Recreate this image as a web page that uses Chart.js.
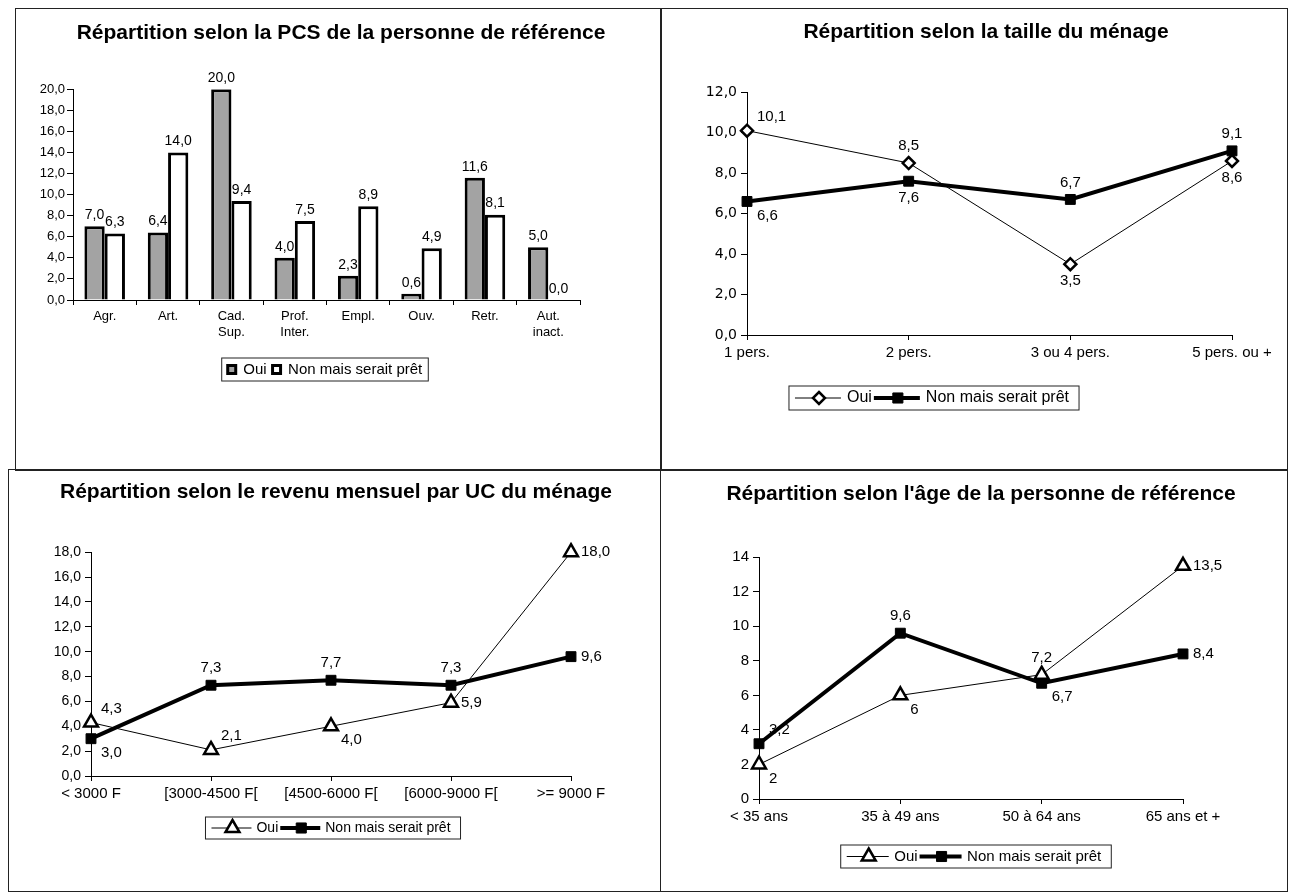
<!DOCTYPE html>
<html lang="fr">
<head>
<meta charset="utf-8">
<title>Répartition</title>
<script src="https://cdn.jsdelivr.net/npm/chart.js@4.4.1/dist/chart.umd.min.js"></script>
<style>
  html, body { margin: 0; padding: 0; background: #fff; }
  body { width: 1289px; height: 893px; position: relative; overflow: hidden; }
  .frame { position: absolute; border: 1.5px solid #222; box-sizing: border-box; }
  canvas { position: absolute; }
</style>
</head>
<body>
<div class="frame" style="left:15px;top:8px;width:647px;height:463px"></div>
<div class="frame" style="left:660px;top:8px;width:628px;height:463px"></div>
<div class="frame" style="left:8px;top:469px;width:653px;height:423px"></div>
<div class="frame" style="left:660px;top:469px;width:628px;height:423px"></div>

<canvas id="pcsChart" width="645" height="461" style="left:15px;top:8px"></canvas>
<canvas id="tailleChart" width="628" height="461" style="left:660px;top:8px"></canvas>
<canvas id="revenuChart" width="652" height="423" style="left:8px;top:469px"></canvas>
<canvas id="ageChart" width="628" height="423" style="left:660px;top:469px"></canvas>

<script>
// --- data ---
const pcsLabels = ['Agr.', 'Art.', ['Cad.', 'Sup.'], ['Prof.', 'Inter.'], 'Empl.', 'Ouv.', 'Retr.', ['Aut.', 'inact.']];
const pcsOui = [7.0, 6.4, 20.0, 4.0, 2.3, 0.6, 11.6, 5.0];
const pcsNon = [6.3, 14.0, 9.4, 7.5, 8.9, 4.9, 8.1, 0.0];

const tailleLabels = ['1 pers.', '2 pers.', '3 ou 4 pers.', '5 pers. ou +'];
const tailleOui = [10.1, 8.5, 3.5, 8.6];
const tailleNon = [6.6, 7.6, 6.7, 9.1];

const revenuLabels = ['< 3000 F', '[3000-4500 F[', '[4500-6000 F[', '[6000-9000 F[', '>= 9000 F'];
const revenuOui = [4.3, 2.1, 4.0, 5.9, 18.0];
const revenuNon = [3.0, 7.3, 7.7, 7.3, 9.6];

const ageLabels = ['< 35 ans', '35 à 49 ans', '50 à 64 ans', '65 ans et +'];
const ageOui = [2, 6, 7.2, 13.5];
const ageNon = [3.2, 9.6, 6.7, 8.4];

const seriesNames = ['Oui', 'Non mais serait prêt'];

// where each value label sits around its point (n, s, e, ne, se)
const tailleLabelPos = [['ne', 'n', 's', 's'], ['se', 's', 'n', 'n']];
const revenuLabelPos = [['ne', 'ne', 'se', 'e', 'e'], ['se', 'n', 'n', 'n', 'e']];
const ageLabelPos = [['se', 'se', 'n', 'e'], ['ne', 'n', 'se', 'e']];

const SANS = '"Liberation Sans", Arial, sans-serif';
const NARROW = '"Liberation Sans Narrow", "Liberation Sans", Arial, sans-serif';

// value labels next to bars / points
const valueLabels = {
  id: 'valueLabels',
  afterDatasetsDraw(chart, args, opts) {
    const ctx = chart.ctx;
    ctx.save();
    ctx.font = opts.font;
    ctx.fillStyle = '#000';
    ctx.textBaseline = 'middle';
    chart.data.datasets.forEach((ds, i) => {
      const meta = chart.getDatasetMeta(i);
      meta.data.forEach((el, j) => {
        const v = ds.data[j];
        const txt = (opts.decimals ? v.toFixed(1) : String(v)).replace('.', ',');
        const p = opts.positions ? opts.positions[i][j] : 'n';
        let x = el.x, y = el.y;
        ctx.textAlign = 'center';
        if (p === 'n') y -= opts.gap;
        if (p === 's') y += opts.gap;
        if (p === 'e' || p === 'ne' || p === 'se') { ctx.textAlign = 'left'; x += 10; }
        if (p === 'ne') y -= 14;
        if (p === 'se') y += 14;
        ctx.fillText(txt, x, y);
      });
    });
    ctx.restore();
  }
};

// move title and legend horizontally (centres in canvas px)
const blockCentres = {
  id: 'blockCentres',
  afterLayout(chart, args, opts) {
    const t = chart.titleBlock;
    if (t && opts.title != null) {
      const w = t.right - t.left;
      t.left = opts.title - w / 2;
      t.right = opts.title + w / 2;
    }
    const lg = chart.legend;
    if (lg && opts.legend != null) {
      const w = lg.right - lg.left;
      lg.left = opts.legend - w / 2;
      lg.right = opts.legend + w / 2;
    }
  }
};

function drawMarker(ctx, style, x, y, r) {
  ctx.beginPath();
  if (style === 'rect') {
    ctx.rect(x - r * 0.72, y - r * 0.72, r * 1.44, r * 1.44);
  } else if (style === 'rectRot') {
    ctx.moveTo(x, y - r); ctx.lineTo(x + r, y); ctx.lineTo(x, y + r); ctx.lineTo(x - r, y); ctx.closePath();
  } else {
    ctx.moveTo(x, y - r); ctx.lineTo(x + r * 0.87, y + r * 0.5); ctx.lineTo(x - r * 0.87, y + r * 0.5); ctx.closePath();
  }
  ctx.fill();
  ctx.stroke();
}

// legend: line samples with markers and a box around it
const legendFrame = {
  id: 'legendFrame',
  afterDraw(chart, args, opts) {
    const lg = chart.legend;
    if (!lg || !lg.legendHitBoxes || !lg.legendHitBoxes.length) return;
    const boxes = lg.legendHitBoxes;
    const ctx = chart.ctx;
    ctx.save();
    if (opts.lineSamples) {
      const bw = lg.options.labels.boxWidth;
      boxes.forEach((b, i) => {
        const ds = chart.data.datasets[i];
        const cy = b.top + b.height / 2;
        ctx.strokeStyle = '#000';
        ctx.lineWidth = ds.borderWidth;
        ctx.beginPath();
        ctx.moveTo(b.left - 4, cy);
        ctx.lineTo(b.left + bw + 2, cy);
        ctx.stroke();
        ctx.fillStyle = ds.pointBackgroundColor;
        ctx.lineWidth = ds.pointBorderWidth;
        drawMarker(ctx, ds.pointStyle, b.left + bw / 2, cy, ds.pointRadius);
      });
    }
    let l = Infinity, r = -Infinity, t = Infinity, btm = -Infinity;
    boxes.forEach(b => {
      l = Math.min(l, b.left); r = Math.max(r, b.left + b.width);
      t = Math.min(t, b.top); btm = Math.max(btm, b.top + b.height);
    });
    ctx.strokeStyle = '#222';
    ctx.lineWidth = 1;
    ctx.strokeRect(l - opts.padX, t - 4, r - l + opts.padX * 2, btm - t + 8);
    ctx.restore();
  }
};

function yAxis(max, step, width, font, decimals, tickPad) {
  return {
    min: 0,
    max: max,
    ticks: {
      stepSize: step, color: '#000', font: font, padding: tickPad,
      callback: v => decimals ? v.toFixed(1).replace('.', ',') : String(v)
    },
    grid: { drawOnChartArea: false, color: '#000', tickLength: 6 },
    border: { color: '#000', width: 1 },
    afterFit: s => { s.width = width; }
  };
}

function xAxis(height, offset, font) {
  return {
    offset: offset,
    ticks: { color: '#000', font: font, maxRotation: 0, autoSkip: false, padding: 4 },
    grid: { drawOnChartArea: false, offset: offset, color: '#000', tickLength: 5 },
    border: { color: '#000', width: 1 },
    afterFit: s => { s.height = height; }
  };
}

function lineLegendLabels(chart) {
  return Chart.defaults.plugins.legend.labels.generateLabels(chart).map(it => {
    it.fillStyle = 'rgba(0,0,0,0)';
    it.strokeStyle = 'rgba(0,0,0,0)';
    it.lineWidth = 0;
    return it;
  });
}

function titleOpts(text, top, bottom) {
  return {
    display: true, text: text, color: '#000',
    font: { family: NARROW, size: 21, weight: 'bold' },
    padding: { top: top, bottom: bottom }
  };
}

function ouiLine(data, style) {
  return {
    label: seriesNames[0], data: data,
    borderColor: '#000', borderWidth: 1,
    pointStyle: style, pointRadius: style === 'triangle' ? 8 : 6,
    pointBackgroundColor: '#fff', pointBorderColor: '#000', pointBorderWidth: 2.5,
    tension: 0, clip: false
  };
}

function nonLine(data) {
  return {
    label: seriesNames[1], data: data,
    borderColor: '#000', borderWidth: 4,
    pointStyle: 'rect', pointRadius: 7,
    pointBackgroundColor: '#000', pointBorderColor: '#000', pointBorderWidth: 1,
    tension: 0, clip: false
  };
}

function lineChart(id, cfg) {
  return new Chart(document.getElementById(id), {
    type: 'line',
    data: {
      labels: cfg.labels,
      datasets: [ouiLine(cfg.oui, cfg.marker), nonLine(cfg.non)]
    },
    options: {
      responsive: false,
      animation: false,
      layout: { padding: { left: 0, right: cfg.padRight, top: 0, bottom: cfg.padBottom } },
      scales: {
        x: xAxis(cfg.xHeight, false, { family: NARROW, size: 15 }),
        y: yAxis(cfg.max, cfg.step, cfg.yWidth, cfg.yFont, cfg.decimals, cfg.tickPad)
      },
      plugins: {
        title: titleOpts(cfg.title, cfg.titleTop, cfg.titleBottom),
        legend: {
          position: 'bottom',
          labels: {
            boxWidth: cfg.legendBox, boxHeight: 10, padding: 6, color: '#000',
            font: { family: NARROW, size: cfg.legendSize },
            generateLabels: lineLegendLabels
          }
        },
        tooltip: { enabled: false },
        valueLabels: { font: '15px ' + NARROW, gap: 17, decimals: cfg.labelDecimals, positions: cfg.labelPos },
        legendFrame: { lineSamples: true, padX: 10 },
        blockCentres: { title: cfg.titleCentre, legend: cfg.legendCentre }
      }
    },
    plugins: [valueLabels, legendFrame, blockCentres]
  });
}

// --- PCS (bars) ---
new Chart(document.getElementById('pcsChart'), {
  type: 'bar',
  data: {
    labels: pcsLabels,
    datasets: [
      {
        label: seriesNames[0], data: pcsOui,
        backgroundColor: '#a3a3a3', borderColor: '#000', borderWidth: 3,
        categoryPercentage: 0.64, barPercentage: 1.0
      },
      {
        label: seriesNames[1], data: pcsNon,
        backgroundColor: '#fff', borderColor: '#000', borderWidth: 3,
        categoryPercentage: 0.64, barPercentage: 1.0
      }
    ]
  },
  options: {
    responsive: false,
    animation: false,
    layout: { padding: { left: 0, right: 80, top: 0, bottom: 82 } },
    scales: {
      x: xAxis(56, true, { family: SANS, size: 13 }),
      y: yAxis(20, 2, 58, { family: SANS, size: 13 }, true, 2)
    },
    plugins: {
      title: titleOpts('Répartition selon la PCS de la personne de référence', 13, 43),
      legend: {
        position: 'bottom',
        labels: { boxWidth: 8, boxHeight: 8, padding: 6, color: '#000', font: { family: NARROW, size: 15 } }
      },
      tooltip: { enabled: false },
      valueLabels: { font: '14px ' + SANS, gap: 11, decimals: true },
      legendFrame: { lineSamples: false, padX: 6 },
      blockCentres: { title: 326, legend: 310 }
    }
  },
  plugins: [valueLabels, legendFrame, blockCentres]
});

// --- taille du ménage ---
lineChart('tailleChart', {
  labels: tailleLabels, oui: tailleOui, non: tailleNon, marker: 'rectRot',
  title: 'Répartition selon la taille du ménage', titleTop: 12, titleBottom: 47,
  max: 12, step: 2, decimals: true, labelDecimals: true, labelPos: tailleLabelPos,
  yWidth: 87, yFont: { family: '"DejaVu Sans", sans-serif', size: 14 }, tickPad: 4,
  padRight: 56, padBottom: 53, xHeight: 49, titleCentre: 326, legendCentre: 274,
  legendBox: 40, legendSize: 16
});

// --- revenu mensuel ---
lineChart('revenuChart', {
  labels: revenuLabels, oui: revenuOui, non: revenuNon, marker: 'triangle',
  title: 'Répartition selon le revenu mensuel par UC du ménage', titleTop: 11, titleBottom: 47,
  max: 18, step: 2, decimals: true, labelDecimals: true, labelPos: revenuLabelPos,
  yWidth: 83, yFont: { family: SANS, size: 14 }, tickPad: 4,
  padRight: 89, padBottom: 47, xHeight: 39, titleCentre: 328, legendCentre: 325,
  legendBox: 34, legendSize: 14
});

// --- âge ---
lineChart('ageChart', {
  labels: ageLabels, oui: ageOui, non: ageNon, marker: 'triangle',
  title: "Répartition selon l'âge de la personne de référence", titleTop: 13, titleBottom: 50,
  max: 14, step: 2, decimals: false, labelDecimals: false, labelPos: ageLabelPos,
  yWidth: 99, yFont: { family: SANS, size: 15 }, tickPad: 4,
  padRight: 105, padBottom: 18, xHeight: 44, titleCentre: 321, legendCentre: 316,
  legendBox: 36, legendSize: 15
});
</script>
</body>
</html>
